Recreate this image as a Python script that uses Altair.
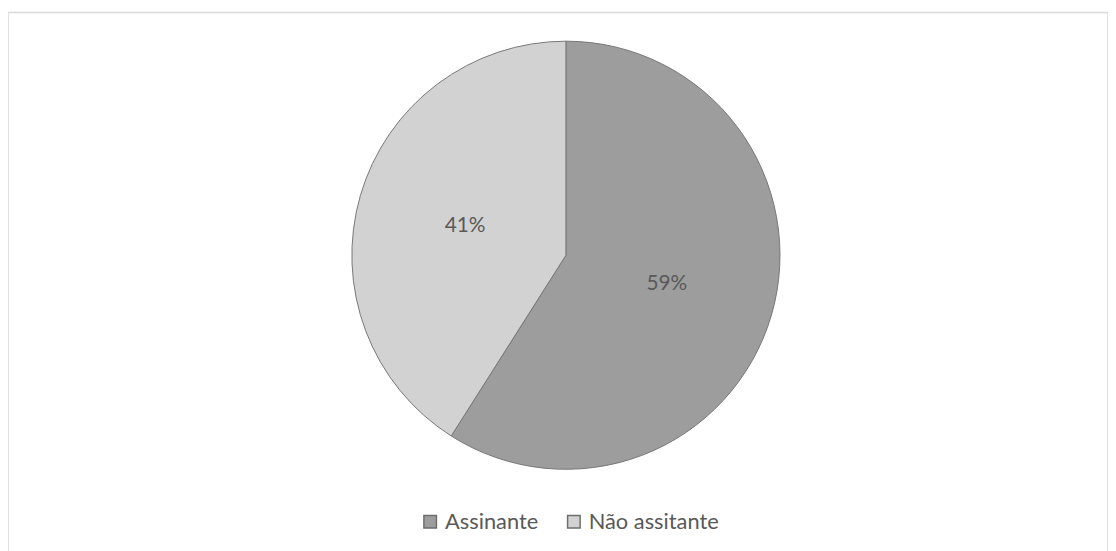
import altair as alt
import pandas as pd

categories = ["Assinante", "Não assitante"]
values = [59, 41]
labels = ["59%", "41%"]
colors = ["#9d9d9d", "#d2d2d2"]

df = pd.DataFrame({"categoria": categories, "valor": values, "rotulo": labels,
                   "ordem": [0, 1]})

cx, cy, R = 563, 245, 216

base = alt.Chart(df).encode(
    theta=alt.Theta("valor:Q", stack=True),
    order=alt.Order("ordem:Q"),
)

pie = base.mark_arc(outerRadius=R, stroke="#767676", strokeWidth=1).encode(
    x=alt.value(cx), y=alt.value(cy),
    color=alt.Color("categoria:N",
                    scale=alt.Scale(domain=categories, range=colors),
                    legend=alt.Legend(title=None, orient="none", direction="horizontal",
                                      legendX=415, legendY=503,
                                      symbolType="square", symbolSize=160,
                                      symbolStrokeColor="#6e6e6e", symbolStrokeWidth=1.5,
                                      labelFont="Lato", labelFontSize=22,
                                      labelColor="#595959", columnPadding=24,
                                      labelOffset=4)),
)

text = base.mark_text(radius=106, font="Lato", fontSize=21, color="#595959").encode(
    x=alt.value(cx), y=alt.value(cy),
    text="rotulo:N",
)

chart = alt.layer(pie, text).properties(
    width=1110, height=545,
    padding={"left": 0, "top": 2, "right": 0, "bottom": 0},
).configure_view(stroke="#d9d9d9", strokeWidth=1.5)

chart.save("out.html", embed_options={"renderer": "svg", "actions": False})
